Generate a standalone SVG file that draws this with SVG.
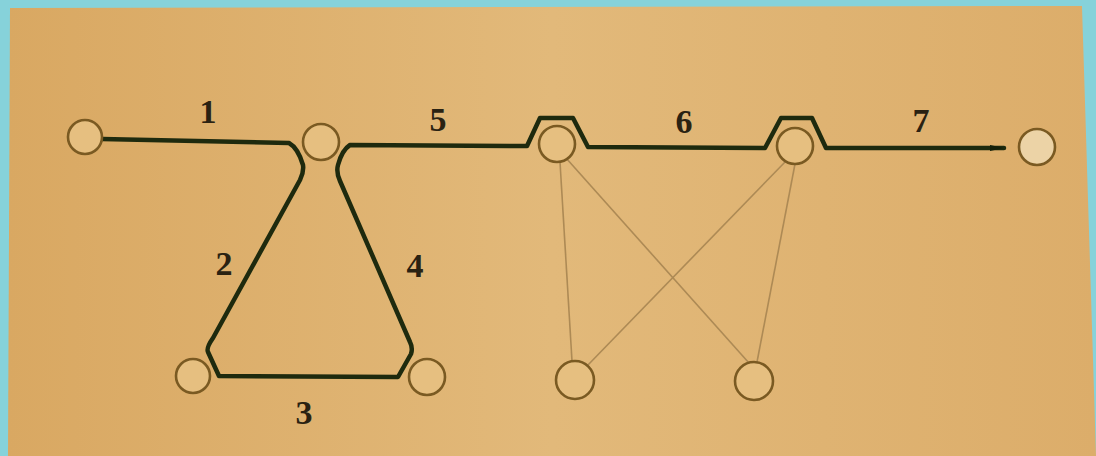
<svg xmlns="http://www.w3.org/2000/svg" width="1096" height="456" viewBox="0 0 1096 456">
<style>
.node{fill:#e6bf80;stroke:#7a5a22;stroke-width:2.6}
.thick{fill:none;stroke:#1e2a0e;stroke-width:4.5;stroke-linejoin:round;stroke-linecap:round}
.thin{fill:none;stroke:#ad8a55;stroke-width:1.6}
.lbl{font-family:"Liberation Serif",serif;font-weight:bold;font-size:34px;fill:#2a2212;text-anchor:middle}
</style>
<defs>
<linearGradient id="bg" x1="0" y1="0" x2="1" y2="0">
<stop offset="0" stop-color="#d9a862"/>
<stop offset="0.5" stop-color="#e2b97a"/>
<stop offset="1" stop-color="#dcad6a"/>
</linearGradient>
<marker id="arr" markerWidth="16" markerHeight="8" refX="14" refY="4" orient="auto" markerUnits="userSpaceOnUse">
<path d="M0,1 L14,4 L0,7 Z" fill="#14200a"/>
</marker>
</defs>
<rect width="1096" height="456" fill="#86d2da"/>
<polygon points="10,8 1082,6 1096,456 8,456" fill="url(#bg)"/>
<g id="connectors">
<path class="thick" d="M102,139 L289,143 Q298,148 303,165 Q304,172 300,180 L213,338 Q206,348 208,352 L219,376 L398,377 L411,354 Q413,348 410,342 L340,181 Q336,172 338,165 Q342,150 350,145 L527,146 L540,118 L573,118 L588,147 L765,148 L781,118 L812,118 L826,148 L1004,148" marker-end="url(#arr)"/>
<line class="thin" x1="560" y1="162" x2="572" y2="361"/>
<line class="thin" x1="566" y1="158" x2="749" y2="363"/>
<line class="thin" x1="786" y1="161" x2="587" y2="366"/>
<line class="thin" x1="795" y1="164" x2="757" y2="362"/>
</g>
<g id="n1"><circle class="node" cx="85" cy="137" r="17"/></g>
<g id="n2"><circle class="node" cx="321" cy="142" r="18"/></g>
<g id="n3"><circle class="node" cx="557" cy="144" r="18"/></g>
<g id="n4"><circle class="node" cx="795" cy="146" r="18"/></g>
<g id="n5"><circle class="node" cx="1037" cy="147" r="18" style="fill:#ecd3a6"/></g>
<g id="n6"><circle class="node" cx="193" cy="376" r="17"/></g>
<g id="n7"><circle class="node" cx="427" cy="377" r="18"/></g>
<g id="n8"><circle class="node" cx="575" cy="380" r="19"/></g>
<g id="n9"><circle class="node" cx="754" cy="381" r="19"/></g>
<g id="labels">
<text class="lbl" x="208" y="123">1</text>
<text class="lbl" x="438" y="131">5</text>
<text class="lbl" x="684" y="133">6</text>
<text class="lbl" x="921" y="132">7</text>
<text class="lbl" x="224" y="275">2</text>
<text class="lbl" x="415" y="277">4</text>
<text class="lbl" x="304" y="424">3</text>
</g>
</svg>
